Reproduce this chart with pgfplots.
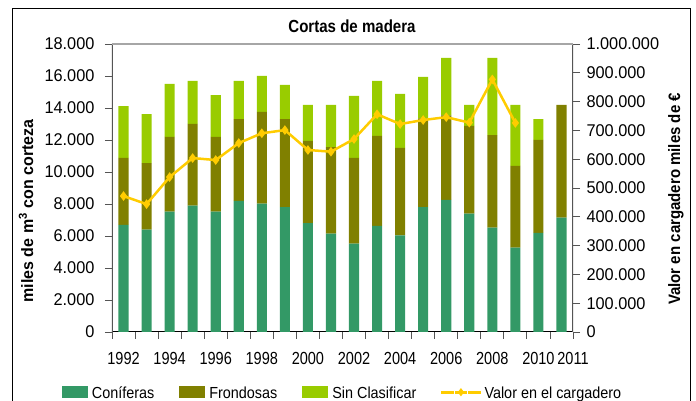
\documentclass[border=0pt]{standalone}
\usepackage{fontspec}
\setmainfont{Liberation Sans}[FakeStretch=0.9]
\newfontfamily\ytfont{Liberation Sans}[FakeStretch=0.96]
\newfontfamily\xtfont{Liberation Sans}[FakeStretch=0.83]
\newfontfamily\labfont{Liberation Sans}[FakeStretch=0.97]
\newfontfamily\rlabfont{Liberation Sans}[FakeStretch=0.91]
\newfontfamily\titfont{Liberation Sans}[FakeStretch=0.86]
\usepackage{pgfplots}
\usepackage{pgfplotstable}
\pgfplotsset{compat=1.18}
\definecolor{conif}{HTML}{339966}
\definecolor{frond}{HTML}{808000}
\definecolor{sincl}{HTML}{99CC00}
\definecolor{valor}{HTML}{FFCC00}
\definecolor{axgray}{HTML}{555555}
\newcommand\ytl{\ytfont\fontsize{17}{20}\selectfont}
\newcommand\xtl{\xtfont\fontsize{17.5}{20}\selectfont}
\newcommand\labl{\labfont\bfseries\fontsize{16.5}{19}\selectfont}
\newcommand\rlabl{\rlabfont\bfseries\fontsize{16.5}{19}\selectfont}
\newcommand\legl{\fontsize{16}{19}\selectfont}

\pgfplotstableread{
x    conif frond sincl
0.5  6690  4190  3240
1.5  6400  4160  3060
2.5  7520  4670  3310
3.5  7900  5100  2690
4.5  7520  4670  2620
5.5  8190  5120  2380
6.5  8020  5730  2250
7.5  7810  5500  2130
8.5  6810  5130  2250
9.5  6150  5410  2630
10.5 5520  5360  3870
11.5 6630  5620  3440
12.5 6040  5460  3380
13.5 7810  5540  2590
14.5 8250  5290  3590
15.5 7400  5480  1310
16.5 6520  5790  4820
17.5 5270  5110  3810
18.5 6190  5810  1310
19.5 7150  7040  0
}\cortas

\pgfplotstableread{
x    valor
0.5  472000
1.5  444000
2.5  538000
3.5  604000
4.5  597000
5.5  656000
6.5  690000
7.5  701000
8.5  632000
9.5  626000
10.5 670000
11.5 756000
12.5 722000
13.5 736000
14.5 746000
15.5 727000
16.5 877000
17.5 726000
}\valortab

\pgfplotsset{
  barleg/.style={legend image code/.code={\fill[##1] (0pt,-5pt) rectangle (26pt,7pt);}},
  lineleg/.style={legend image code/.code={\draw[##1, mark repeat=2, mark phase=2] plot coordinates {(0pt,1pt) (13.5pt,1pt) (27pt,1pt)};}},
}

\begin{document}
\begin{tikzpicture}[x=1pt,y=1pt]
\useasboundingbox (0,0) rectangle (696,401);
\clip (0,0) rectangle (696,401);
\draw[black, line width=1pt] (12.7,-20) rectangle (690.5,392);
\node[anchor=base, font=\titfont\bfseries\fontsize{17.5}{20}\selectfont] at (352,368) {Cortas de madera};

\begin{axis}[
  at={(112pt,69pt)}, anchor=south west, scale only axis,
  width=461pt, height=288pt,
  xmin=0, xmax=20, ymin=0, ymax=18000,
  ybar stacked, bar width=0.44,
  axis line style={draw=none},
  tick align=outside, major tick length=7pt,
  tick style={axgray, line width=0.9pt},
  xtick pos=left, ytick pos=left,
  xtick={0,1,...,20}, xticklabels={},
  extra x ticks={0.5,2.5,4.5,6.5,8.5,10.5,12.5,14.5,16.5,18.5,20},
  extra x tick labels={1992,1994,1996,1998,2000,2002,2004,2006,2008,2010,\raisebox{3pt}{2011}},
  extra x tick style={major tick length=0pt, xticklabel style={font=\xtl, yshift=-17pt}},
  ytick={0,2000,...,18000},
  scaled y ticks=false,
  yticklabel style={font=\ytl, xshift=-7pt, /pgf/number format/.cd, fixed, 1000 sep={.}, assume math mode=true},
  ylabel={miles de m\textsuperscript{3} con corteza},
  every axis y label/.style={at={(axis description cs:0,0.42)}, xshift=-86pt, rotate=90, anchor=center, font=\labl},
  legend style={at={(axis description cs:0.5,-0.175)}, anchor=north, draw=none, fill=none,
    legend columns=4, font=\legl, /tikz/every even column/.append style={column sep=23pt},
    /tikz/every odd column/.append style={column sep=2pt}},
  legend cell align=left,
]
\addplot[fill=conif, draw=none, barleg] table[x=x, y=conif] {\cortas};
\addlegendentry{Coníferas}
\addplot[fill=frond, draw=none, barleg] table[x=x, y=frond] {\cortas};
\addlegendentry{Frondosas}
\addplot[fill=sincl, draw=none, barleg] table[x=x, y=sincl] {\cortas};
\addlegendentry{Sin Clasificar}
\addlegendimage{valor, line width=2pt, mark=diamond*, mark size=2.5pt, lineleg}
\addlegendentry{Valor en el cargadero}
\draw[gray!70, line width=1.2pt] (rel axis cs:0,1) -- (rel axis cs:1,1);
\draw[axgray, line width=1.5pt] (rel axis cs:0,0) -- (rel axis cs:0,1);
\draw[axgray, line width=1.5pt] (rel axis cs:1,0) -- (rel axis cs:1,1);
\draw[black, line width=1.3pt] (rel axis cs:0,0) -- (rel axis cs:1,0);
\end{axis}

\begin{axis}[
  at={(112pt,69pt)}, anchor=south west, scale only axis,
  width=461pt, height=288pt,
  xmin=0, xmax=20, ymin=0, ymax=1000000,
  axis x line=none, axis y line*=right,
  axis line style={draw=none},
  tick align=outside, major tick length=7pt,
  tick style={axgray, line width=0.9pt},
  ytick={0,100000,...,1000000},
  scaled y ticks=false,
  yticklabel style={font=\ytl, xshift=3pt, /pgf/number format/.cd, fixed, 1000 sep={.}, assume math mode=true},
  ylabel={Valor en cargadero miles de €},
  every axis y label/.style={at={(axis description cs:1,0.462)}, xshift=103pt, rotate=90, anchor=center, font=\rlabl},
]
\addplot[valor, line width=2.5pt, mark=diamond*, mark size=2.8pt] table[x=x, y=valor] {\valortab};
\end{axis}
\end{tikzpicture}
\end{document}
